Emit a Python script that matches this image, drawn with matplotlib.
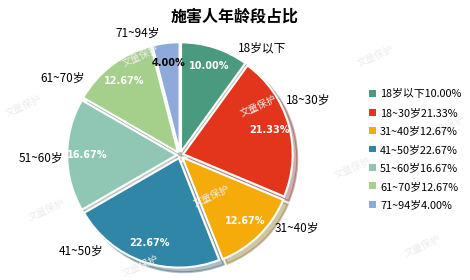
import matplotlib
matplotlib.use('Agg')
import matplotlib.pyplot as plt

plt.rcParams['font.family'] = ['Noto Sans CJK SC', 'DejaVu Sans']

# data
labels = ['18岁以下', '18~30岁', '31~40岁', '41~50岁', '51~60岁', '61~70岁', '71~94岁']
values = [10.00, 21.33, 12.67, 22.67, 16.67, 12.67, 4.00]
colors = ['#4a9a80', '#e2351b', '#f5ab0a', '#2f86a6', '#8fc6b4', '#a5d08b', '#8eaadb']
pct_colors = ['white', 'white', 'white', 'white', 'white', 'white', 'black']

# where the outside labels sit (data coords of the pie axes), like excel's best fit
label_xy = [(0.53, 0.98, 'left'), (0.97, 0.50, 'left'), (0.86, -0.67, 'left'),
            (-0.70, -0.88, 'right'), (-1.07, -0.03, 'right'), (-0.87, 0.70, 'right'),
            (-0.18, 1.11, 'right')]

fig = plt.figure(figsize=(4.7, 2.8), dpi=100)
fig.patch.set_facecolor('white')

# watermark
for wx, wy in [(0.05, 0.62), (0.30, 0.80), (0.55, 0.62), (0.80, 0.80), (0.10, 0.25),
               (0.45, 0.30), (0.75, 0.40), (0.90, 0.12), (0.30, 0.05), (0.95, 0.55)]:
    fig.text(wx, wy, '文童保护', fontsize=7, color='#ececec', rotation=25,
             ha='center', va='center', zorder=0)

fig.text(0.5, 0.94, '施害人年龄段占比', ha='center', va='center',
         fontsize=11.5, fontweight='bold')

ax = fig.add_axes([(180 - 115) / 470, (125 - 115) / 280, 230 / 470, 230 / 280])
wedges, texts, autotexts = ax.pie(
    values, labels=labels, colors=colors, startangle=90, counterclock=False,
    explode=[0.03] * len(values), labeldistance=1.22, pctdistance=0.82,
    autopct=lambda p: '%.2f%%' % p,
    wedgeprops=dict(edgecolor='white', linewidth=1.5),
    shadow=dict(ox=0.03, oy=-0.03, shade=0.5, alpha=0.35),
    textprops=dict(fontsize=8.5))
for t, (lx, ly, ha) in zip(texts, label_xy):
    t.set_position((lx, ly))
    t.set_ha(ha)
    t.set_va('center')
for t, c in zip(autotexts, pct_colors):
    t.set_color(c)
    t.set_fontweight('bold')
    t.set_fontfamily(['DejaVu Sans'])
    t.set_fontsize(7)
ax.set_xlim(-1.05, 1.05)
ax.set_ylim(-1.05, 1.05)
ax.set_aspect('equal')

leg_labels = ['%s%.2f%%' % (l, v) for l, v in zip(labels, values)]
leg = fig.legend(wedges, leg_labels, loc='center left', bbox_to_anchor=(0.765, 0.465),
                 frameon=False, fontsize=7.8, handlelength=0.6, handleheight=0.6,
                 handletextpad=0.4, labelspacing=0.78)
for h in leg.legend_handles:
    h.set_edgecolor('none')

fig.savefig('out.png', dpi=100)
